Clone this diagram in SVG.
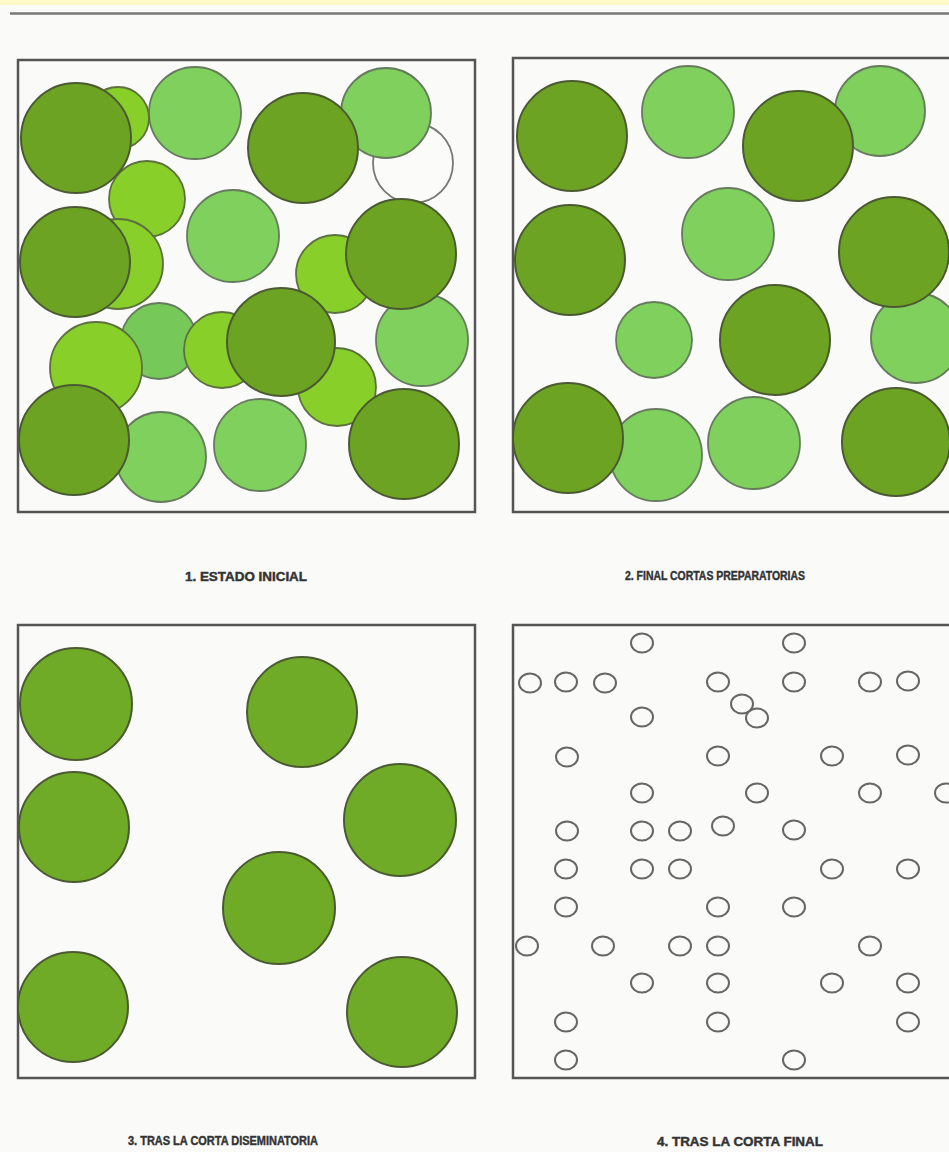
<svg xmlns="http://www.w3.org/2000/svg" width="949" height="1152" viewBox="0 0 949 1152">
<style>
.frame{fill:none;stroke:#555;stroke-width:2.5}
.dk{fill:#6ca322;stroke:#4b5a33;stroke-width:2}
.dk3{fill:#70ab28;stroke:#4b5a33;stroke-width:2}
.lt{fill:#7fd05c;stroke:#667a5e;stroke-width:1.8}
.md{fill:#76c858;stroke:#667a5e;stroke-width:1.8}
.yg{fill:#88cf2a;stroke:#5d7040;stroke-width:1.8}
.wh{fill:#fbfbf9;stroke:#777;stroke-width:1.8}
.sm{fill:none;stroke:#666;stroke-width:2}
.lbl{font-family:"Liberation Sans",Arial,sans-serif;font-weight:bold;font-size:12px;fill:#333;stroke:#333;stroke-width:0.4}
</style>
<rect x="0" y="0" width="949" height="1152" fill="#fafaf8"/>
<rect x="0" y="0" width="949" height="5" fill="#fdf9c4"/>
<line x1="10" y1="13.5" x2="949" y2="13.5" stroke="#777" stroke-width="2.5"/>

<g id="panel1">
<rect class="frame" x="18" y="60" width="457" height="452"/>
<circle class="wh" cx="413" cy="163" r="40"/>
<circle class="lt" cx="195" cy="113" r="46"/>
<circle class="lt" cx="386" cy="113" r="45"/>
<circle class="lt" cx="233" cy="236" r="46"/>
<circle class="lt" cx="422" cy="340" r="46"/>
<circle class="md" cx="159" cy="341" r="38"/>
<circle class="lt" cx="161" cy="457" r="45"/>
<circle class="lt" cx="260" cy="445" r="46"/>
<circle class="yg" cx="118" cy="118" r="31"/>
<circle class="yg" cx="147" cy="199" r="38"/>
<circle class="yg" cx="118" cy="264" r="45"/>
<circle class="yg" cx="335" cy="274" r="39"/>
<circle class="yg" cx="222" cy="350" r="38"/>
<circle class="yg" cx="337" cy="387" r="39"/>
<circle class="yg" cx="96" cy="368" r="46"/>
<circle class="dk" cx="76" cy="138" r="55"/>
<circle class="dk" cx="303" cy="148" r="55"/>
<circle class="dk" cx="75" cy="262" r="55"/>
<circle class="dk" cx="401" cy="254" r="55"/>
<circle class="dk" cx="281" cy="342" r="54"/>
<circle class="dk" cx="74" cy="440" r="55"/>
<circle class="dk" cx="404" cy="444" r="55"/>
</g>

<g id="panel2">
<rect class="frame" x="513" y="58" width="460" height="454"/>
<circle class="lt" cx="688" cy="112" r="46"/>
<circle class="lt" cx="880" cy="111" r="45"/>
<circle class="lt" cx="728" cy="234" r="46"/>
<circle class="lt" cx="654" cy="340" r="38"/>
<circle class="lt" cx="916" cy="338" r="45"/>
<circle class="lt" cx="656" cy="455" r="46"/>
<circle class="lt" cx="754" cy="443" r="46"/>
<circle class="dk" cx="572" cy="136" r="55"/>
<circle class="dk" cx="798" cy="146" r="55"/>
<circle class="dk" cx="570" cy="260" r="55"/>
<circle class="dk" cx="894" cy="252" r="55"/>
<circle class="dk" cx="775" cy="340" r="55"/>
<circle class="dk" cx="568" cy="438" r="55"/>
<circle class="dk" cx="896" cy="442" r="54"/>
</g>

<g id="panel3">
<rect class="frame" x="18" y="625" width="457" height="453"/>
<circle class="dk3" cx="76" cy="704" r="56"/>
<circle class="dk3" cx="302" cy="712" r="55"/>
<circle class="dk3" cx="74" cy="827" r="55"/>
<circle class="dk3" cx="400" cy="820" r="56"/>
<circle class="dk3" cx="279" cy="908" r="56"/>
<circle class="dk3" cx="73" cy="1007" r="55"/>
<circle class="dk3" cx="402" cy="1012" r="55"/>
</g>

<g id="panel4">
<rect class="frame" x="513" y="625" width="460" height="453"/>
<g class="sm">
<ellipse cx="642" cy="643" rx="11" ry="9.5"/>
<ellipse cx="794" cy="643" rx="11" ry="9.5"/>
<ellipse cx="530" cy="683" rx="11" ry="9.5"/>
<ellipse cx="566" cy="682" rx="11" ry="9.5"/>
<ellipse cx="605" cy="683" rx="11" ry="9.5"/>
<ellipse cx="718" cy="682" rx="11" ry="9.5"/>
<ellipse cx="794" cy="682" rx="11" ry="9.5"/>
<ellipse cx="870" cy="682" rx="11" ry="9.5"/>
<ellipse cx="908" cy="681" rx="11" ry="9.5"/>
<ellipse cx="742" cy="704" rx="11" ry="9.5"/>
<ellipse cx="757" cy="718" rx="11" ry="9.5"/>
<ellipse cx="642" cy="717" rx="11" ry="9.5"/>
<ellipse cx="567" cy="757" rx="11" ry="9.5"/>
<ellipse cx="718" cy="756" rx="11" ry="9.5"/>
<ellipse cx="832" cy="756" rx="11" ry="9.5"/>
<ellipse cx="908" cy="755" rx="11" ry="9.5"/>
<ellipse cx="642" cy="793" rx="11" ry="9.5"/>
<ellipse cx="757" cy="793" rx="11" ry="9.5"/>
<ellipse cx="870" cy="793" rx="11" ry="9.5"/>
<ellipse cx="946" cy="793" rx="11" ry="9.5"/>
<ellipse cx="567" cy="831" rx="11" ry="9.5"/>
<ellipse cx="642" cy="831" rx="11" ry="9.5"/>
<ellipse cx="680" cy="831" rx="11" ry="9.5"/>
<ellipse cx="723" cy="826" rx="11" ry="9.5"/>
<ellipse cx="794" cy="830" rx="11" ry="9.5"/>
<ellipse cx="566" cy="869" rx="11" ry="9.5"/>
<ellipse cx="642" cy="869" rx="11" ry="9.5"/>
<ellipse cx="680" cy="869" rx="11" ry="9.5"/>
<ellipse cx="832" cy="869" rx="11" ry="9.5"/>
<ellipse cx="908" cy="869" rx="11" ry="9.5"/>
<ellipse cx="566" cy="907" rx="11" ry="9.5"/>
<ellipse cx="718" cy="907" rx="11" ry="9.5"/>
<ellipse cx="794" cy="907" rx="11" ry="9.5"/>
<ellipse cx="527" cy="946" rx="11" ry="9.5"/>
<ellipse cx="603" cy="946" rx="11" ry="9.5"/>
<ellipse cx="680" cy="946" rx="11" ry="9.5"/>
<ellipse cx="718" cy="946" rx="11" ry="9.5"/>
<ellipse cx="870" cy="946" rx="11" ry="9.5"/>
<ellipse cx="642" cy="983" rx="11" ry="9.5"/>
<ellipse cx="718" cy="983" rx="11" ry="9.5"/>
<ellipse cx="832" cy="983" rx="11" ry="9.5"/>
<ellipse cx="908" cy="983" rx="11" ry="9.5"/>
<ellipse cx="566" cy="1022" rx="11" ry="9.5"/>
<ellipse cx="718" cy="1022" rx="11" ry="9.5"/>
<ellipse cx="908" cy="1022" rx="11" ry="9.5"/>
<ellipse cx="566" cy="1060" rx="11" ry="9.5"/>
<ellipse cx="794" cy="1060" rx="11" ry="9.5"/>
</g>
</g>

<g id="labels">
<text class="lbl" x="185" y="581" textLength="122" lengthAdjust="spacingAndGlyphs">1. ESTADO INICIAL</text>
<text class="lbl" x="625" y="580" textLength="180" lengthAdjust="spacingAndGlyphs">2. FINAL CORTAS PREPARATORIAS</text>
<text class="lbl" x="128" y="1145" textLength="190" lengthAdjust="spacingAndGlyphs">3. TRAS LA CORTA DISEMINATORIA</text>
<text class="lbl" x="657" y="1146" textLength="166" lengthAdjust="spacingAndGlyphs">4. TRAS LA CORTA FINAL</text>
</g>
</svg>
